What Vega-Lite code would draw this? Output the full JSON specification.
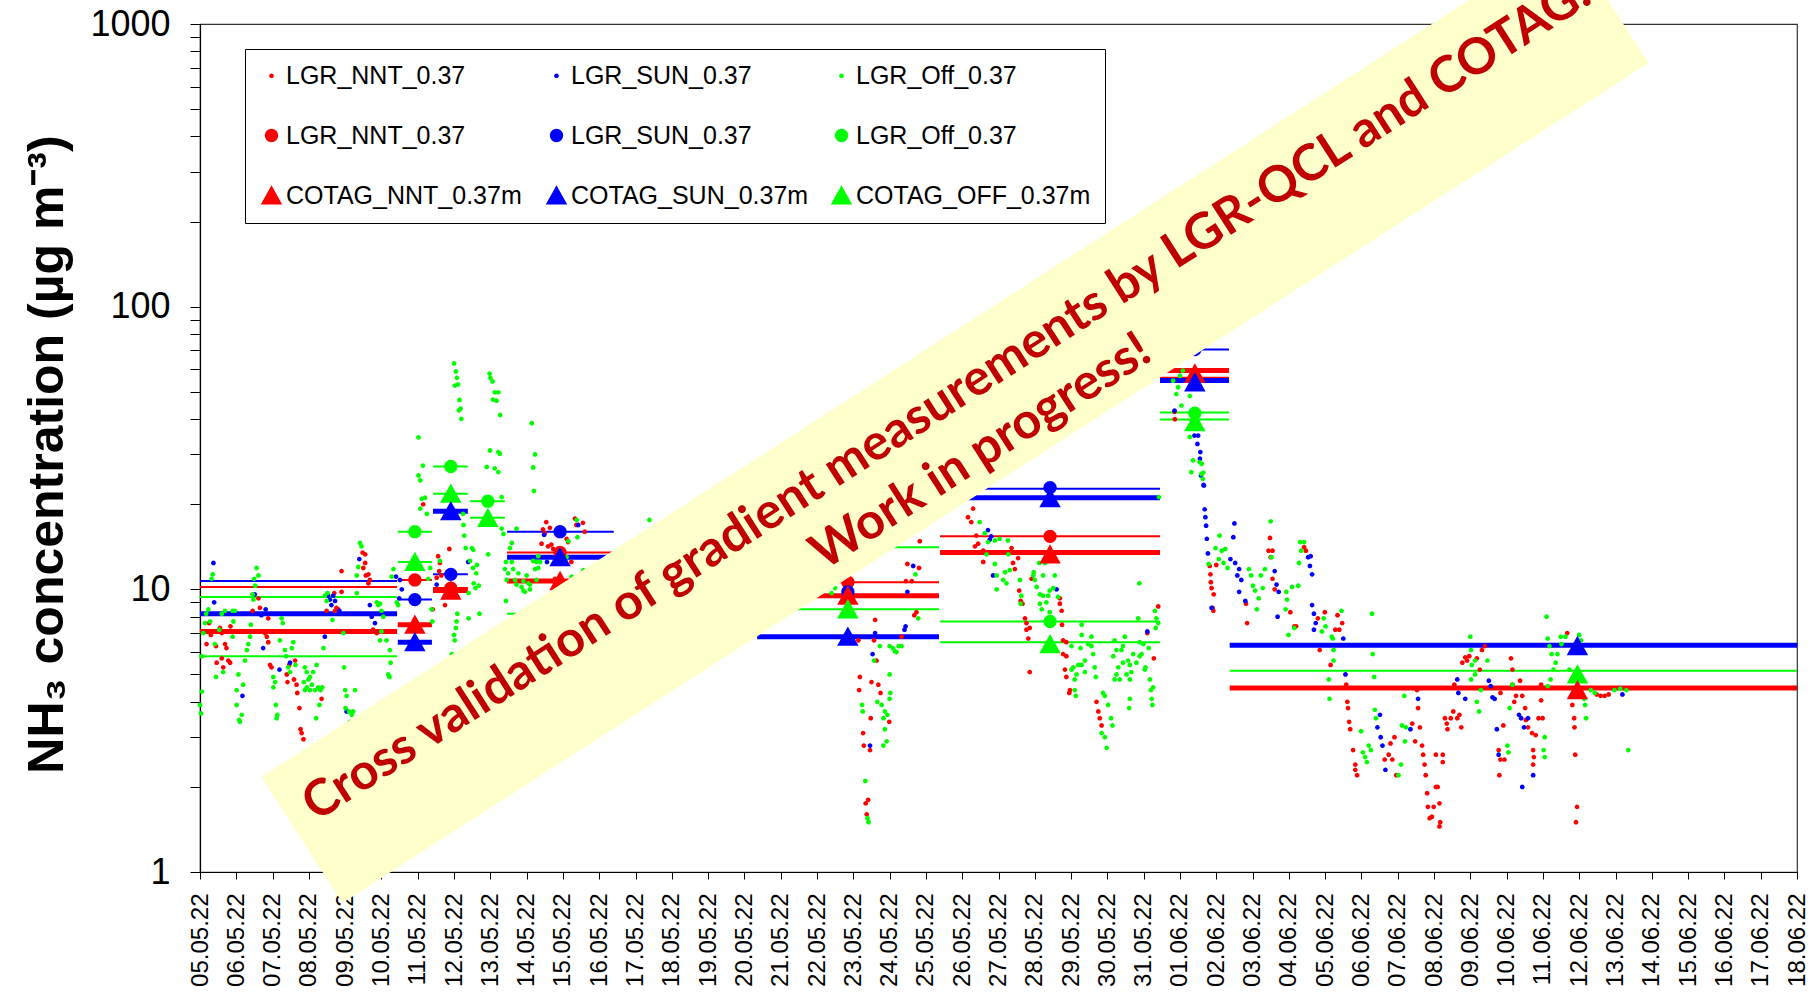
{
"$schema": "https://vega.github.io/schema/vega-lite/v6.json",
"width": 1597, "height": 848,
"autosize": {"type": "none"},
"padding": {"left": 200, "top": 24, "right": 19, "bottom": 120},
"background": "white",
"config": {
  "view": {"stroke": "#333333", "strokeWidth": 1.2},
  "font": "Liberation Sans",
  "axis": {"domainColor": "black", "tickColor": "black", "labelColor": "black", "titleColor": "black", "grid": false, "domainWidth": 1.2, "tickWidth": 1}
},
"datasets": {
"lines": [
{"series":"LGR_SUN_0.37 mean","day":0,"day_end":5.43,"nh3":10.7},
{"series":"LGR_NNT_0.37 mean","day":0,"day_end":5.43,"nh3":10.2},
{"series":"LGR_Off_0.37 mean","day":0,"day_end":5.43,"nh3":9.4},
{"series":"COTAG_SUN_0.37m","day":0,"day_end":5.43,"nh3":8.2},
{"series":"COTAG_NNT_0.37m","day":0,"day_end":5.43,"nh3":7.1},
{"series":"COTAG_OFF_0.37m","day":0,"day_end":5.43,"nh3":5.8},
{"series":"LGR_Off_0.37 mean","day":5.45,"day_end":6.39,"nh3":16.0},
{"series":"COTAG_OFF_0.37m","day":5.45,"day_end":6.39,"nh3":12.5},
{"series":"LGR_NNT_0.37 mean","day":5.45,"day_end":6.39,"nh3":10.8},
{"series":"LGR_SUN_0.37 mean","day":5.45,"day_end":6.39,"nh3":9.2},
{"series":"COTAG_NNT_0.37m","day":5.45,"day_end":6.39,"nh3":7.5},
{"series":"COTAG_SUN_0.37m","day":5.45,"day_end":6.39,"nh3":6.5},
{"series":"LGR_Off_0.37 mean","day":6.42,"day_end":7.38,"nh3":27.2},
{"series":"COTAG_OFF_0.37m","day":6.42,"day_end":7.38,"nh3":21.8},
{"series":"COTAG_SUN_0.37m","day":6.42,"day_end":7.38,"nh3":18.9},
{"series":"LGR_SUN_0.37 mean","day":6.42,"day_end":7.38,"nh3":11.3},
{"series":"LGR_NNT_0.37 mean","day":6.42,"day_end":7.38,"nh3":10.1},
{"series":"COTAG_NNT_0.37m","day":6.42,"day_end":7.38,"nh3":9.9},
{"series":"LGR_Off_0.37 mean","day":7.44,"day_end":8.40,"nh3":20.5},
{"series":"COTAG_OFF_0.37m","day":7.44,"day_end":8.40,"nh3":17.9},
{"series":"LGR_SUN_0.37 mean","day":8.46,"day_end":11.40,"nh3":16.0},
{"series":"LGR_NNT_0.37 mean","day":8.46,"day_end":11.40,"nh3":13.5},
{"series":"COTAG_SUN_0.37m","day":8.46,"day_end":11.40,"nh3":13.0},
{"series":"COTAG_NNT_0.37m","day":8.46,"day_end":11.40,"nh3":10.7},
{"series":"COTAG_OFF_0.37m","day":8.46,"day_end":11.40,"nh3":8.2},
{"series":"LGR_Off_0.37 mean","day":15.35,"day_end":20.36,"nh3":14.1},
{"series":"LGR_NNT_0.37 mean","day":15.35,"day_end":20.36,"nh3":10.6},
{"series":"COTAG_NNT_0.37m","day":15.35,"day_end":20.36,"nh3":9.5},
{"series":"COTAG_OFF_0.37m","day":15.35,"day_end":20.36,"nh3":8.5},
{"series":"COTAG_SUN_0.37m","day":15.35,"day_end":20.36,"nh3":6.8},
{"series":"LGR_SUN_0.37 mean","day":20.39,"day_end":26.45,"nh3":22.7},
{"series":"COTAG_SUN_0.37m","day":20.39,"day_end":26.45,"nh3":21.1},
{"series":"LGR_NNT_0.37 mean","day":20.39,"day_end":26.45,"nh3":15.4},
{"series":"COTAG_NNT_0.37m","day":20.39,"day_end":26.45,"nh3":13.5},
{"series":"LGR_Off_0.37 mean","day":20.39,"day_end":26.45,"nh3":7.7},
{"series":"COTAG_OFF_0.37m","day":20.39,"day_end":26.45,"nh3":6.5},
{"series":"LGR_SUN_0.37 mean","day":26.45,"day_end":28.35,"nh3":70.5},
{"series":"COTAG_NNT_0.37m","day":26.45,"day_end":28.35,"nh3":59.4},
{"series":"LGR_NNT_0.37 mean","day":26.45,"day_end":28.35,"nh3":56},
{"series":"COTAG_SUN_0.37m","day":26.45,"day_end":28.35,"nh3":54.8},
{"series":"LGR_Off_0.37 mean","day":26.45,"day_end":28.35,"nh3":42.2},
{"series":"COTAG_OFF_0.37m","day":26.45,"day_end":28.35,"nh3":39.9},
{"series":"COTAG_SUN_0.37m","day":28.37,"day_end":44,"nh3":6.34},
{"series":"COTAG_OFF_0.37m","day":28.37,"day_end":44,"nh3":5.15},
{"series":"COTAG_NNT_0.37m","day":28.37,"day_end":44,"nh3":4.48}
],
"means": [
{"series":"LGR_Off_0.37 mean","day":5.92,"nh3":16.0},
{"series":"LGR_NNT_0.37 mean","day":5.92,"nh3":10.8},
{"series":"LGR_SUN_0.37 mean","day":5.92,"nh3":9.2},
{"series":"LGR_Off_0.37 mean","day":6.91,"nh3":27.2},
{"series":"LGR_SUN_0.37 mean","day":6.91,"nh3":11.3},
{"series":"LGR_NNT_0.37 mean","day":6.91,"nh3":10.1},
{"series":"LGR_Off_0.37 mean","day":7.93,"nh3":20.5},
{"series":"LGR_SUN_0.37 mean","day":9.92,"nh3":16.0},
{"series":"LGR_NNT_0.37 mean","day":9.92,"nh3":13.5},
{"series":"LGR_Off_0.37 mean","day":17.85,"nh3":14.1},
{"series":"LGR_NNT_0.37 mean","day":17.85,"nh3":10.6},
{"series":"LGR_SUN_0.37 mean","day":17.85,"nh3":9.8},
{"series":"LGR_SUN_0.37 mean","day":23.42,"nh3":22.9},
{"series":"LGR_NNT_0.37 mean","day":23.42,"nh3":15.4},
{"series":"LGR_Off_0.37 mean","day":23.42,"nh3":7.7},
{"series":"LGR_SUN_0.37 mean","day":27.41,"nh3":70.5},
{"series":"LGR_NNT_0.37 mean","day":27.41,"nh3":56},
{"series":"LGR_Off_0.37 mean","day":27.41,"nh3":42.0},
{"series":"COTAG_OFF_0.37m","day":5.92,"nh3":12.5},
{"series":"COTAG_NNT_0.37m","day":5.92,"nh3":7.5},
{"series":"COTAG_SUN_0.37m","day":5.92,"nh3":6.5},
{"series":"COTAG_OFF_0.37m","day":6.91,"nh3":21.8},
{"series":"COTAG_SUN_0.37m","day":6.91,"nh3":18.9},
{"series":"COTAG_NNT_0.37m","day":6.91,"nh3":9.9},
{"series":"COTAG_OFF_0.37m","day":7.93,"nh3":17.9},
{"series":"COTAG_SUN_0.37m","day":9.92,"nh3":13.0},
{"series":"COTAG_NNT_0.37m","day":9.92,"nh3":10.7},
{"series":"COTAG_OFF_0.37m","day":9.92,"nh3":8.2},
{"series":"COTAG_NNT_0.37m","day":17.85,"nh3":9.5},
{"series":"COTAG_OFF_0.37m","day":17.85,"nh3":8.5},
{"series":"COTAG_SUN_0.37m","day":17.85,"nh3":6.8},
{"series":"COTAG_SUN_0.37m","day":23.42,"nh3":21.0},
{"series":"COTAG_NNT_0.37m","day":23.42,"nh3":13.3},
{"series":"COTAG_OFF_0.37m","day":23.42,"nh3":6.4},
{"series":"COTAG_NNT_0.37m","day":27.41,"nh3":58},
{"series":"COTAG_SUN_0.37m","day":27.41,"nh3":54},
{"series":"COTAG_OFF_0.37m","day":27.41,"nh3":39},
{"series":"COTAG_SUN_0.37m","day":37.95,"nh3":6.3},
{"series":"COTAG_OFF_0.37m","day":37.95,"nh3":5.0},
{"series":"COTAG_NNT_0.37m","day":37.95,"nh3":4.4}
],
"dots": [
{"series":"LGR_NNT_0.37 dots","day":0.18,"nh3":6.4},{"series":"LGR_NNT_0.37 dots","day":0.25,"nh3":7.6},{"series":"LGR_NNT_0.37 dots","day":0.3,"nh3":6.9},{"series":"LGR_NNT_0.37 dots","day":0.44,"nh3":6.3},{"series":"LGR_NNT_0.37 dots","day":0.46,"nh3":7.1},{"series":"LGR_NNT_0.37 dots","day":0.46,"nh3":5.5},{"series":"LGR_NNT_0.37 dots","day":0.55,"nh3":7.3},{"series":"LGR_NNT_0.37 dots","day":0.6,"nh3":7.0},{"series":"LGR_NNT_0.37 dots","day":0.6,"nh3":5.7},{"series":"LGR_NNT_0.37 dots","day":0.64,"nh3":5.3},{"series":"LGR_NNT_0.37 dots","day":0.69,"nh3":6.4},{"series":"LGR_NNT_0.37 dots","day":0.73,"nh3":6.2},{"series":"LGR_NNT_0.37 dots","day":0.78,"nh3":5.6},{"series":"LGR_NNT_0.37 dots","day":0.83,"nh3":5.5},{"series":"LGR_NNT_0.37 dots","day":0.73,"nh3":7.1},{"series":"LGR_NNT_0.37 dots","day":0.84,"nh3":7.4},
{"series":"LGR_NNT_0.37 dots","day":1.45,"nh3":8.4},{"series":"LGR_NNT_0.37 dots","day":1.61,"nh3":9.3},{"series":"LGR_NNT_0.37 dots","day":1.65,"nh3":8.6},{"series":"LGR_NNT_0.37 dots","day":1.79,"nh3":7.0},{"series":"LGR_NNT_0.37 dots","day":1.84,"nh3":6.8},{"series":"LGR_NNT_0.37 dots","day":1.88,"nh3":6.5},{"series":"LGR_NNT_0.37 dots","day":1.88,"nh3":7.9},{"series":"LGR_NNT_0.37 dots","day":1.93,"nh3":5.4},{"series":"LGR_NNT_0.37 dots","day":1.97,"nh3":5.3},
{"series":"LGR_NNT_0.37 dots","day":2.39,"nh3":5.0},{"series":"LGR_NNT_0.37 dots","day":2.41,"nh3":4.7},{"series":"LGR_NNT_0.37 dots","day":2.46,"nh3":5.4},{"series":"LGR_NNT_0.37 dots","day":2.62,"nh3":5.6},{"series":"LGR_NNT_0.37 dots","day":2.59,"nh3":4.8},{"series":"LGR_NNT_0.37 dots","day":2.66,"nh3":4.6},{"series":"LGR_NNT_0.37 dots","day":2.68,"nh3":4.3},{"series":"LGR_NNT_0.37 dots","day":2.74,"nh3":3.8},{"series":"LGR_NNT_0.37 dots","day":2.77,"nh3":3.2},{"series":"LGR_NNT_0.37 dots","day":2.8,"nh3":3.1},{"series":"LGR_NNT_0.37 dots","day":2.85,"nh3":2.95},
{"series":"LGR_NNT_0.37 dots","day":3.35,"nh3":4.1},{"series":"LGR_NNT_0.37 dots","day":3.49,"nh3":8.4},{"series":"LGR_NNT_0.37 dots","day":3.7,"nh3":9.7},{"series":"LGR_NNT_0.37 dots","day":3.72,"nh3":8.4},{"series":"LGR_NNT_0.37 dots","day":3.76,"nh3":8.6},{"series":"LGR_NNT_0.37 dots","day":3.81,"nh3":8.5},{"series":"LGR_NNT_0.37 dots","day":3.9,"nh3":9.8},{"series":"LGR_NNT_0.37 dots","day":3.9,"nh3":11.6},
{"series":"LGR_NNT_0.37 dots","day":4.48,"nh3":13.5},{"series":"LGR_NNT_0.37 dots","day":4.55,"nh3":13.3},{"series":"LGR_NNT_0.37 dots","day":4.55,"nh3":12.4},{"series":"LGR_NNT_0.37 dots","day":4.5,"nh3":11.9},{"series":"LGR_NNT_0.37 dots","day":4.57,"nh3":11.2},{"series":"LGR_NNT_0.37 dots","day":4.64,"nh3":11.3},{"series":"LGR_NNT_0.37 dots","day":4.64,"nh3":10.5},{"series":"LGR_NNT_0.37 dots","day":4.68,"nh3":10.8},{"series":"LGR_NNT_0.37 dots","day":4.77,"nh3":7.2},{"series":"LGR_NNT_0.37 dots","day":4.87,"nh3":7.0},
{"series":"LGR_NNT_0.37 dots","day":6.15,"nh3":20.0},{"series":"LGR_NNT_0.37 dots","day":6.41,"nh3":8.5},{"series":"LGR_NNT_0.37 dots","day":6.52,"nh3":11.0},{"series":"LGR_NNT_0.37 dots","day":6.56,"nh3":13.1},{"series":"LGR_NNT_0.37 dots","day":6.59,"nh3":11.6},{"series":"LGR_NNT_0.37 dots","day":6.61,"nh3":12.4},{"series":"LGR_NNT_0.37 dots","day":6.65,"nh3":11.2},{"series":"LGR_NNT_0.37 dots","day":6.75,"nh3":8.8},{"series":"LGR_NNT_0.37 dots","day":6.87,"nh3":13.9},
{"series":"LGR_NNT_0.37 dots","day":9.41,"nh3":14.5},{"series":"LGR_NNT_0.37 dots","day":9.45,"nh3":16.3},{"series":"LGR_NNT_0.37 dots","day":9.5,"nh3":15.8},{"series":"LGR_NNT_0.37 dots","day":9.54,"nh3":17.3},{"series":"LGR_NNT_0.37 dots","day":9.59,"nh3":14.2},{"series":"LGR_NNT_0.37 dots","day":9.64,"nh3":16.5},{"series":"LGR_NNT_0.37 dots","day":9.68,"nh3":14.4},{"series":"LGR_NNT_0.37 dots","day":9.73,"nh3":13.9},{"series":"LGR_NNT_0.37 dots","day":9.78,"nh3":10.9},{"series":"LGR_NNT_0.37 dots","day":9.82,"nh3":10.6},{"series":"LGR_NNT_0.37 dots","day":9.91,"nh3":10.3},{"series":"LGR_NNT_0.37 dots","day":10.1,"nh3":15.1},{"series":"LGR_NNT_0.37 dots","day":10.14,"nh3":14.7},{"series":"LGR_NNT_0.37 dots","day":10.23,"nh3":12.5},{"series":"LGR_NNT_0.37 dots","day":10.33,"nh3":17.8},{"series":"LGR_NNT_0.37 dots","day":10.37,"nh3":16.9},{"series":"LGR_NNT_0.37 dots","day":10.55,"nh3":17.2},{"series":"LGR_NNT_0.37 dots","day":10.6,"nh3":16.0},
{"series":"LGR_NNT_0.37 dots","day":18.14,"nh3":6.6},{"series":"LGR_NNT_0.37 dots","day":18.16,"nh3":4.4},{"series":"LGR_NNT_0.37 dots","day":18.18,"nh3":4.9},{"series":"LGR_NNT_0.37 dots","day":18.27,"nh3":3.1},{"series":"LGR_NNT_0.37 dots","day":18.29,"nh3":2.8},{"series":"LGR_NNT_0.37 dots","day":18.34,"nh3":1.75},{"series":"LGR_NNT_0.37 dots","day":18.37,"nh3":1.6},{"series":"LGR_NNT_0.37 dots","day":18.41,"nh3":1.8},{"series":"LGR_NNT_0.37 dots","day":18.46,"nh3":2.7},{"series":"LGR_NNT_0.37 dots","day":18.48,"nh3":3.5},{"series":"LGR_NNT_0.37 dots","day":18.5,"nh3":4.7},{"series":"LGR_NNT_0.37 dots","day":18.57,"nh3":6.6},{"series":"LGR_NNT_0.37 dots","day":18.6,"nh3":7.8},{"series":"LGR_NNT_0.37 dots","day":18.64,"nh3":5.6},{"series":"LGR_NNT_0.37 dots","day":18.69,"nh3":4.6},{"series":"LGR_NNT_0.37 dots","day":18.75,"nh3":4.3},{"series":"LGR_NNT_0.37 dots","day":18.99,"nh3":3.4},{"series":"LGR_NNT_0.37 dots","day":19.33,"nh3":6.8},{"series":"LGR_NNT_0.37 dots","day":19.45,"nh3":10.7},{"series":"LGR_NNT_0.37 dots","day":19.49,"nh3":12.3},{"series":"LGR_NNT_0.37 dots","day":19.61,"nh3":10.7},{"series":"LGR_NNT_0.37 dots","day":19.68,"nh3":8.1},{"series":"LGR_NNT_0.37 dots","day":19.74,"nh3":8.3},{"series":"LGR_NNT_0.37 dots","day":19.81,"nh3":11.9},{"series":"LGR_NNT_0.37 dots","day":19.83,"nh3":14.8},
{"series":"LGR_NNT_0.37 dots","day":21.16,"nh3":18.0},{"series":"LGR_NNT_0.37 dots","day":21.25,"nh3":17.3},{"series":"LGR_NNT_0.37 dots","day":21.3,"nh3":19.3},{"series":"LGR_NNT_0.37 dots","day":21.35,"nh3":14.2},{"series":"LGR_NNT_0.37 dots","day":21.39,"nh3":15.5},{"series":"LGR_NNT_0.37 dots","day":21.44,"nh3":14.5},{"series":"LGR_NNT_0.37 dots","day":21.58,"nh3":13.7},{"series":"LGR_NNT_0.37 dots","day":21.58,"nh3":12.5},{"series":"LGR_NNT_0.37 dots","day":22.36,"nh3":14.0},{"series":"LGR_NNT_0.37 dots","day":22.4,"nh3":12.4},{"series":"LGR_NNT_0.37 dots","day":22.45,"nh3":11.8},{"series":"LGR_NNT_0.37 dots","day":22.54,"nh3":12.9},{"series":"LGR_NNT_0.37 dots","day":22.57,"nh3":9.9},{"series":"LGR_NNT_0.37 dots","day":22.61,"nh3":9.1},{"series":"LGR_NNT_0.37 dots","day":22.66,"nh3":8.9},{"series":"LGR_NNT_0.37 dots","day":22.73,"nh3":7.9},{"series":"LGR_NNT_0.37 dots","day":22.77,"nh3":7.6},{"series":"LGR_NNT_0.37 dots","day":22.77,"nh3":7.2},{"series":"LGR_NNT_0.37 dots","day":22.82,"nh3":6.7},{"series":"LGR_NNT_0.37 dots","day":22.86,"nh3":7.3},{"series":"LGR_NNT_0.37 dots","day":22.86,"nh3":5.1},{"series":"LGR_NNT_0.37 dots","day":22.91,"nh3":10.9},{"series":"LGR_NNT_0.37 dots","day":23.69,"nh3":9.3},{"series":"LGR_NNT_0.37 dots","day":23.69,"nh3":8.9},{"series":"LGR_NNT_0.37 dots","day":23.74,"nh3":8.4},{"series":"LGR_NNT_0.37 dots","day":23.75,"nh3":7.5},{"series":"LGR_NNT_0.37 dots","day":23.78,"nh3":6.6},{"series":"LGR_NNT_0.37 dots","day":23.78,"nh3":5.9},{"series":"LGR_NNT_0.37 dots","day":23.83,"nh3":5.2},{"series":"LGR_NNT_0.37 dots","day":23.87,"nh3":6.5},{"series":"LGR_NNT_0.37 dots","day":23.87,"nh3":5.8},{"series":"LGR_NNT_0.37 dots","day":23.87,"nh3":4.9},{"series":"LGR_NNT_0.37 dots","day":23.95,"nh3":4.3},{"series":"LGR_NNT_0.37 dots","day":23.97,"nh3":4.4},{"series":"LGR_NNT_0.37 dots","day":24.7,"nh3":4.0},{"series":"LGR_NNT_0.37 dots","day":24.75,"nh3":3.7},{"series":"LGR_NNT_0.37 dots","day":24.79,"nh3":3.5},{"series":"LGR_NNT_0.37 dots","day":24.84,"nh3":3.3},{"series":"LGR_NNT_0.37 dots","day":26.1,"nh3":7.0},{"series":"LGR_NNT_0.37 dots","day":26.28,"nh3":5.7},{"series":"LGR_NNT_0.37 dots","day":26.4,"nh3":8.7},{"series":"LGR_NNT_0.37 dots","day":26.85,"nh3":42.5},{"series":"LGR_NNT_0.37 dots","day":26.86,"nh3":40.0},
{"series":"LGR_NNT_0.37 dots","day":27.82,"nh3":12.1},{"series":"LGR_NNT_0.37 dots","day":27.84,"nh3":11.3},{"series":"LGR_NNT_0.37 dots","day":27.85,"nh3":10.6},{"series":"LGR_NNT_0.37 dots","day":27.87,"nh3":10.1},{"series":"LGR_NNT_0.37 dots","day":27.93,"nh3":9.6},{"series":"LGR_NNT_0.37 dots","day":27.9,"nh3":8.6},{"series":"LGR_NNT_0.37 dots","day":27.92,"nh3":8.4},{"series":"LGR_NNT_0.37 dots","day":28.0,"nh3":12.2},{"series":"LGR_NNT_0.37 dots","day":28.82,"nh3":8.9},{"series":"LGR_NNT_0.37 dots","day":28.85,"nh3":7.6},{"series":"LGR_NNT_0.37 dots","day":29.44,"nh3":13.7},{"series":"LGR_NNT_0.37 dots","day":29.48,"nh3":15.2},{"series":"LGR_NNT_0.37 dots","day":29.5,"nh3":13.0},{"series":"LGR_NNT_0.37 dots","day":29.55,"nh3":13.7},{"series":"LGR_NNT_0.37 dots","day":29.55,"nh3":10.9},{"series":"LGR_NNT_0.37 dots","day":29.61,"nh3":10.0},{"series":"LGR_NNT_0.37 dots","day":30.04,"nh3":8.3},{"series":"LGR_NNT_0.37 dots","day":30.15,"nh3":7.4},{"series":"LGR_NNT_0.37 dots","day":30.2,"nh3":7.4},{"series":"LGR_NNT_0.37 dots","day":30.42,"nh3":14.1},{"series":"LGR_NNT_0.37 dots","day":30.47,"nh3":13.7},{"series":"LGR_NNT_0.37 dots","day":30.8,"nh3":7.9},{"series":"LGR_NNT_0.37 dots","day":30.85,"nh3":6.1},{"series":"LGR_NNT_0.37 dots","day":30.99,"nh3":8.3},{"series":"LGR_NNT_0.37 dots","day":31.15,"nh3":5.4},{"series":"LGR_NNT_0.37 dots","day":31.28,"nh3":7.2},{"series":"LGR_NNT_0.37 dots","day":31.34,"nh3":8.1},{"series":"LGR_NNT_0.37 dots","day":31.39,"nh3":7.2},{"series":"LGR_NNT_0.37 dots","day":31.47,"nh3":7.6},{"series":"LGR_NNT_0.37 dots","day":31.58,"nh3":4.6},{"series":"LGR_NNT_0.37 dots","day":31.61,"nh3":4.0},{"series":"LGR_NNT_0.37 dots","day":31.63,"nh3":3.8},{"series":"LGR_NNT_0.37 dots","day":31.66,"nh3":3.4},{"series":"LGR_NNT_0.37 dots","day":31.69,"nh3":3.2},{"series":"LGR_NNT_0.37 dots","day":31.77,"nh3":2.7},{"series":"LGR_NNT_0.37 dots","day":31.83,"nh3":2.3},{"series":"LGR_NNT_0.37 dots","day":31.83,"nh3":2.4},{"series":"LGR_NNT_0.37 dots","day":31.88,"nh3":2.2},
{"series":"LGR_NNT_0.37 dots","day":32.64,"nh3":2.5},{"series":"LGR_NNT_0.37 dots","day":32.75,"nh3":2.6},{"series":"LGR_NNT_0.37 dots","day":32.8,"nh3":2.85},{"series":"LGR_NNT_0.37 dots","day":32.85,"nh3":2.5},{"series":"LGR_NNT_0.37 dots","day":32.91,"nh3":3.0},{"series":"LGR_NNT_0.37 dots","day":32.96,"nh3":2.2},{"series":"LGR_NNT_0.37 dots","day":33.4,"nh3":3.35},{"series":"LGR_NNT_0.37 dots","day":33.48,"nh3":2.9},{"series":"LGR_NNT_0.37 dots","day":33.53,"nh3":4.4},{"series":"LGR_NNT_0.37 dots","day":33.56,"nh3":3.8},{"series":"LGR_NNT_0.37 dots","day":33.61,"nh3":3.25},{"series":"LGR_NNT_0.37 dots","day":33.67,"nh3":2.8},{"series":"LGR_NNT_0.37 dots","day":33.7,"nh3":2.6},{"series":"LGR_NNT_0.37 dots","day":33.74,"nh3":2.4},{"series":"LGR_NNT_0.37 dots","day":33.77,"nh3":2.2},{"series":"LGR_NNT_0.37 dots","day":33.81,"nh3":1.9},{"series":"LGR_NNT_0.37 dots","day":33.83,"nh3":1.7},{"series":"LGR_NNT_0.37 dots","day":33.88,"nh3":1.55},{"series":"LGR_NNT_0.37 dots","day":33.94,"nh3":1.57},{"series":"LGR_NNT_0.37 dots","day":33.99,"nh3":1.7},{"series":"LGR_NNT_0.37 dots","day":34.05,"nh3":2.0},{"series":"LGR_NNT_0.37 dots","day":34.05,"nh3":2.6},{"series":"LGR_NNT_0.37 dots","day":34.1,"nh3":2.0},{"series":"LGR_NNT_0.37 dots","day":34.15,"nh3":1.75},{"series":"LGR_NNT_0.37 dots","day":34.15,"nh3":1.45},{"series":"LGR_NNT_0.37 dots","day":34.17,"nh3":1.5},{"series":"LGR_NNT_0.37 dots","day":34.24,"nh3":2.6},{"series":"LGR_NNT_0.37 dots","day":34.24,"nh3":2.45},{"series":"LGR_NNT_0.37 dots","day":34.3,"nh3":3.5},{"series":"LGR_NNT_0.37 dots","day":34.35,"nh3":3.35},{"series":"LGR_NNT_0.37 dots","day":34.37,"nh3":3.2},{"series":"LGR_NNT_0.37 dots","day":34.46,"nh3":3.5},{"series":"LGR_NNT_0.37 dots","day":34.53,"nh3":3.7},{"series":"LGR_NNT_0.37 dots","day":34.56,"nh3":4.6},{"series":"LGR_NNT_0.37 dots","day":34.64,"nh3":3.5},{"series":"LGR_NNT_0.37 dots","day":34.7,"nh3":3.6},{"series":"LGR_NNT_0.37 dots","day":34.75,"nh3":3.25},{"series":"LGR_NNT_0.37 dots","day":34.78,"nh3":5.5},{"series":"LGR_NNT_0.37 dots","day":34.86,"nh3":5.75},{"series":"LGR_NNT_0.37 dots","day":34.91,"nh3":5.6},{"series":"LGR_NNT_0.37 dots","day":34.97,"nh3":5.8},{"series":"LGR_NNT_0.37 dots","day":35.18,"nh3":5.7},{"series":"LGR_NNT_0.37 dots","day":35.26,"nh3":5.2},{"series":"LGR_NNT_0.37 dots","day":35.32,"nh3":6.1},{"series":"LGR_NNT_0.37 dots","day":35.4,"nh3":6.3},{"series":"LGR_NNT_0.37 dots","day":35.78,"nh3":2.7},{"series":"LGR_NNT_0.37 dots","day":35.8,"nh3":2.2},{"series":"LGR_NNT_0.37 dots","day":35.83,"nh3":4.3},{"series":"LGR_NNT_0.37 dots","day":35.83,"nh3":2.5},{"series":"LGR_NNT_0.37 dots","day":35.91,"nh3":3.3},{"series":"LGR_NNT_0.37 dots","day":35.94,"nh3":2.5},{"series":"LGR_NNT_0.37 dots","day":36.12,"nh3":5.7},{"series":"LGR_NNT_0.37 dots","day":36.16,"nh3":5.2},{"series":"LGR_NNT_0.37 dots","day":36.16,"nh3":4.6},{"series":"LGR_NNT_0.37 dots","day":36.21,"nh3":4.0},{"series":"LGR_NNT_0.37 dots","day":36.26,"nh3":4.2},{"series":"LGR_NNT_0.37 dots","day":36.37,"nh3":4.75},{"series":"LGR_NNT_0.37 dots","day":36.43,"nh3":4.2},{"series":"LGR_NNT_0.37 dots","day":36.51,"nh3":3.8},{"series":"LGR_NNT_0.37 dots","day":36.53,"nh3":3.45},{"series":"LGR_NNT_0.37 dots","day":36.59,"nh3":3.25},{"series":"LGR_NNT_0.37 dots","day":36.7,"nh3":3.1},{"series":"LGR_NNT_0.37 dots","day":36.73,"nh3":2.7},{"series":"LGR_NNT_0.37 dots","day":36.73,"nh3":2.4},{"series":"LGR_NNT_0.37 dots","day":36.75,"nh3":2.55},{"series":"LGR_NNT_0.37 dots","day":36.8,"nh3":3.05},{"series":"LGR_NNT_0.37 dots","day":36.88,"nh3":3.5},{"series":"LGR_NNT_0.37 dots","day":36.95,"nh3":4.05},{"series":"LGR_NNT_0.37 dots","day":36.95,"nh3":4.6},{"series":"LGR_NNT_0.37 dots","day":36.99,"nh3":3.5},{"series":"LGR_NNT_0.37 dots","day":37.67,"nh3":7.0},{"series":"LGR_NNT_0.37 dots","day":37.81,"nh3":3.9},{"series":"LGR_NNT_0.37 dots","day":37.86,"nh3":3.5},{"series":"LGR_NNT_0.37 dots","day":37.87,"nh3":3.25},{"series":"LGR_NNT_0.37 dots","day":37.89,"nh3":2.6},{"series":"LGR_NNT_0.37 dots","day":37.91,"nh3":1.5},{"series":"LGR_NNT_0.37 dots","day":37.94,"nh3":1.7},{"series":"LGR_NNT_0.37 dots","day":38.48,"nh3":4.25},{"series":"LGR_NNT_0.37 dots","day":38.59,"nh3":4.2},{"series":"LGR_NNT_0.37 dots","day":38.7,"nh3":4.2},{"series":"LGR_NNT_0.37 dots","day":38.81,"nh3":4.25},
{"series":"LGR_SUN_0.37 dots","day":0.37,"nh3":12.4},{"series":"LGR_SUN_0.37 dots","day":0.39,"nh3":9.0},{"series":"LGR_SUN_0.37 dots","day":1.17,"nh3":4.2},{"series":"LGR_SUN_0.37 dots","day":1.51,"nh3":9.6},{"series":"LGR_SUN_0.37 dots","day":1.69,"nh3":8.1},{"series":"LGR_SUN_0.37 dots","day":1.74,"nh3":6.2},{"series":"LGR_SUN_0.37 dots","day":1.81,"nh3":8.5},{"series":"LGR_SUN_0.37 dots","day":2.19,"nh3":5.2},{"series":"LGR_SUN_0.37 dots","day":2.48,"nh3":5.5},{"series":"LGR_SUN_0.37 dots","day":3.44,"nh3":6.8},{"series":"LGR_SUN_0.37 dots","day":3.53,"nh3":9.5},{"series":"LGR_SUN_0.37 dots","day":3.58,"nh3":9.2},{"series":"LGR_SUN_0.37 dots","day":3.62,"nh3":8.8},{"series":"LGR_SUN_0.37 dots","day":3.67,"nh3":9.5},{"series":"LGR_SUN_0.37 dots","day":3.72,"nh3":9.1},{"series":"LGR_SUN_0.37 dots","day":3.84,"nh3":8.4},{"series":"LGR_SUN_0.37 dots","day":4.04,"nh3":3.7},{"series":"LGR_SUN_0.37 dots","day":4.39,"nh3":12.8},{"series":"LGR_SUN_0.37 dots","day":4.68,"nh3":8.8},{"series":"LGR_SUN_0.37 dots","day":4.73,"nh3":8.0},{"series":"LGR_SUN_0.37 dots","day":4.82,"nh3":7.6},{"series":"LGR_SUN_0.37 dots","day":5.4,"nh3":11.1},{"series":"LGR_SUN_0.37 dots","day":5.49,"nh3":9.3},{"series":"LGR_SUN_0.37 dots","day":5.51,"nh3":10.8},{"series":"LGR_SUN_0.37 dots","day":5.56,"nh3":10.0},{"series":"LGR_SUN_0.37 dots","day":6.52,"nh3":10.4},{"series":"LGR_SUN_0.37 dots","day":7.39,"nh3":12.5},{"series":"LGR_SUN_0.37 dots","day":9.48,"nh3":15.6},{"series":"LGR_SUN_0.37 dots","day":9.56,"nh3":12.5},{"series":"LGR_SUN_0.37 dots","day":10.42,"nh3":16.9},
{"series":"LGR_SUN_0.37 dots","day":18.46,"nh3":2.8},{"series":"LGR_SUN_0.37 dots","day":18.53,"nh3":5.9},{"series":"LGR_SUN_0.37 dots","day":18.6,"nh3":7.0},{"series":"LGR_SUN_0.37 dots","day":19.41,"nh3":7.2},{"series":"LGR_SUN_0.37 dots","day":19.44,"nh3":7.4},{"series":"LGR_SUN_0.37 dots","day":19.49,"nh3":9.8},{"series":"LGR_SUN_0.37 dots","day":19.65,"nh3":12.1},{"series":"LGR_SUN_0.37 dots","day":21.71,"nh3":16.2},{"series":"LGR_SUN_0.37 dots","day":21.76,"nh3":15.0},{"series":"LGR_SUN_0.37 dots","day":21.8,"nh3":15.4},{"series":"LGR_SUN_0.37 dots","day":21.85,"nh3":11.2},{"series":"LGR_SUN_0.37 dots","day":23.6,"nh3":10.0},{"series":"LGR_SUN_0.37 dots","day":26.1,"nh3":7.1},{"series":"LGR_SUN_0.37 dots","day":26.49,"nh3":234},{"series":"LGR_SUN_0.37 dots","day":26.85,"nh3":42.9},{"series":"LGR_SUN_0.37 dots","day":27.4,"nh3":35.0},{"series":"LGR_SUN_0.37 dots","day":27.48,"nh3":32.7},{"series":"LGR_SUN_0.37 dots","day":27.5,"nh3":35.0},{"series":"LGR_SUN_0.37 dots","day":27.55,"nh3":29.0},{"series":"LGR_SUN_0.37 dots","day":27.56,"nh3":30.6},{"series":"LGR_SUN_0.37 dots","day":27.58,"nh3":25.3},{"series":"LGR_SUN_0.37 dots","day":27.65,"nh3":23.4},{"series":"LGR_SUN_0.37 dots","day":27.66,"nh3":23.3},{"series":"LGR_SUN_0.37 dots","day":27.68,"nh3":19.2},{"series":"LGR_SUN_0.37 dots","day":27.7,"nh3":18.0},{"series":"LGR_SUN_0.37 dots","day":27.72,"nh3":16.8},{"series":"LGR_SUN_0.37 dots","day":27.74,"nh3":15.1},{"series":"LGR_SUN_0.37 dots","day":27.77,"nh3":13.4},{"series":"LGR_SUN_0.37 dots","day":27.87,"nh3":8.6},{"series":"LGR_SUN_0.37 dots","day":28.39,"nh3":12.8},{"series":"LGR_SUN_0.37 dots","day":28.47,"nh3":15.3},{"series":"LGR_SUN_0.37 dots","day":28.5,"nh3":17.1},{"series":"LGR_SUN_0.37 dots","day":28.52,"nh3":12.4},{"series":"LGR_SUN_0.37 dots","day":28.58,"nh3":11.2},{"series":"LGR_SUN_0.37 dots","day":28.63,"nh3":11.8},{"series":"LGR_SUN_0.37 dots","day":28.63,"nh3":9.8},{"series":"LGR_SUN_0.37 dots","day":28.69,"nh3":10.8},{"series":"LGR_SUN_0.37 dots","day":28.8,"nh3":9.1},{"series":"LGR_SUN_0.37 dots","day":29.61,"nh3":11.6},{"series":"LGR_SUN_0.37 dots","day":29.66,"nh3":10.4},{"series":"LGR_SUN_0.37 dots","day":29.69,"nh3":8.0},{"series":"LGR_SUN_0.37 dots","day":29.72,"nh3":9.8},{"series":"LGR_SUN_0.37 dots","day":30.53,"nh3":13.0},{"series":"LGR_SUN_0.37 dots","day":30.58,"nh3":12.1},{"series":"LGR_SUN_0.37 dots","day":30.6,"nh3":13.1},{"series":"LGR_SUN_0.37 dots","day":30.64,"nh3":11.3},{"series":"LGR_SUN_0.37 dots","day":30.64,"nh3":8.8},{"series":"LGR_SUN_0.37 dots","day":30.69,"nh3":8.2},{"series":"LGR_SUN_0.37 dots","day":30.69,"nh3":7.2},{"series":"LGR_SUN_0.37 dots","day":30.74,"nh3":7.6},{"series":"LGR_SUN_0.37 dots","day":31.5,"nh3":6.7},{"series":"LGR_SUN_0.37 dots","day":31.56,"nh3":5.0},{"series":"LGR_SUN_0.37 dots","day":32.44,"nh3":3.25},{"series":"LGR_SUN_0.37 dots","day":32.51,"nh3":3.6},{"series":"LGR_SUN_0.37 dots","day":32.53,"nh3":3.0},{"series":"LGR_SUN_0.37 dots","day":32.58,"nh3":2.8},{"series":"LGR_SUN_0.37 dots","day":32.66,"nh3":2.3},{"series":"LGR_SUN_0.37 dots","day":33.35,"nh3":3.2},{"series":"LGR_SUN_0.37 dots","day":33.56,"nh3":4.1},{"series":"LGR_SUN_0.37 dots","day":34.64,"nh3":4.8},{"series":"LGR_SUN_0.37 dots","day":34.67,"nh3":4.3},{"series":"LGR_SUN_0.37 dots","day":34.86,"nh3":4.1},{"series":"LGR_SUN_0.37 dots","day":35.51,"nh3":4.75},{"series":"LGR_SUN_0.37 dots","day":35.56,"nh3":4.55},{"series":"LGR_SUN_0.37 dots","day":35.61,"nh3":4.15},{"series":"LGR_SUN_0.37 dots","day":35.67,"nh3":4.1},{"series":"LGR_SUN_0.37 dots","day":35.73,"nh3":3.2},{"series":"LGR_SUN_0.37 dots","day":35.78,"nh3":2.6},{"series":"LGR_SUN_0.37 dots","day":36.34,"nh3":3.6},{"series":"LGR_SUN_0.37 dots","day":36.4,"nh3":3.5},{"series":"LGR_SUN_0.37 dots","day":36.43,"nh3":2.0},{"series":"LGR_SUN_0.37 dots","day":36.48,"nh3":3.25},{"series":"LGR_SUN_0.37 dots","day":36.59,"nh3":3.5},{"series":"LGR_SUN_0.37 dots","day":36.73,"nh3":2.2},{"series":"LGR_SUN_0.37 dots","day":39.19,"nh3":4.25},
{"series":"LGR_Off_0.37 dots","day":0.0,"nh3":3.9},{"series":"LGR_Off_0.37 dots","day":0.03,"nh3":3.64},{"series":"LGR_Off_0.37 dots","day":0.05,"nh3":4.35},{"series":"LGR_Off_0.37 dots","day":0.05,"nh3":5.8},{"series":"LGR_Off_0.37 dots","day":0.09,"nh3":7.0},{"series":"LGR_Off_0.37 dots","day":0.14,"nh3":7.6},{"series":"LGR_Off_0.37 dots","day":0.17,"nh3":8.2},{"series":"LGR_Off_0.37 dots","day":0.23,"nh3":8.5},{"series":"LGR_Off_0.37 dots","day":0.28,"nh3":7.7},{"series":"LGR_Off_0.37 dots","day":0.32,"nh3":10.9},{"series":"LGR_Off_0.37 dots","day":0.35,"nh3":11.3},{"series":"LGR_Off_0.37 dots","day":0.41,"nh3":6.4},{"series":"LGR_Off_0.37 dots","day":0.44,"nh3":4.9},{"series":"LGR_Off_0.37 dots","day":0.53,"nh3":7.2},{"series":"LGR_Off_0.37 dots","day":0.6,"nh3":8.2},{"series":"LGR_Off_0.37 dots","day":0.64,"nh3":5.1},{"series":"LGR_Off_0.37 dots","day":0.69,"nh3":8.4},{"series":"LGR_Off_0.37 dots","day":0.9,"nh3":8.4},{"series":"LGR_Off_0.37 dots","day":0.9,"nh3":6.8},{"series":"LGR_Off_0.37 dots","day":0.92,"nh3":7.7},{"series":"LGR_Off_0.37 dots","day":0.96,"nh3":8.4},{"series":"LGR_Off_0.37 dots","day":1.01,"nh3":4.4},{"series":"LGR_Off_0.37 dots","day":1.01,"nh3":3.9},{"series":"LGR_Off_0.37 dots","day":1.06,"nh3":5.0},{"series":"LGR_Off_0.37 dots","day":1.08,"nh3":3.45},{"series":"LGR_Off_0.37 dots","day":1.1,"nh3":3.4},{"series":"LGR_Off_0.37 dots","day":1.15,"nh3":3.6},{"series":"LGR_Off_0.37 dots","day":1.19,"nh3":4.6},{"series":"LGR_Off_0.37 dots","day":1.24,"nh3":5.6},{"series":"LGR_Off_0.37 dots","day":1.29,"nh3":6.1},{"series":"LGR_Off_0.37 dots","day":1.33,"nh3":6.4},{"series":"LGR_Off_0.37 dots","day":1.38,"nh3":6.8},{"series":"LGR_Off_0.37 dots","day":1.4,"nh3":7.5},{"series":"LGR_Off_0.37 dots","day":1.45,"nh3":9.6},{"series":"LGR_Off_0.37 dots","day":1.47,"nh3":9.2},{"series":"LGR_Off_0.37 dots","day":1.49,"nh3":10.9},{"series":"LGR_Off_0.37 dots","day":1.52,"nh3":10.3},{"series":"LGR_Off_0.37 dots","day":1.56,"nh3":11.9},{"series":"LGR_Off_0.37 dots","day":1.61,"nh3":11.2},
{"series":"LGR_Off_0.37 dots","day":2.02,"nh3":4.9},{"series":"LGR_Off_0.37 dots","day":2.02,"nh3":4.5},{"series":"LGR_Off_0.37 dots","day":2.07,"nh3":4.7},{"series":"LGR_Off_0.37 dots","day":2.09,"nh3":3.9},{"series":"LGR_Off_0.37 dots","day":2.11,"nh3":3.5},{"series":"LGR_Off_0.37 dots","day":2.13,"nh3":3.6},{"series":"LGR_Off_0.37 dots","day":2.2,"nh3":6.6},{"series":"LGR_Off_0.37 dots","day":2.25,"nh3":7.9},{"series":"LGR_Off_0.37 dots","day":2.28,"nh3":7.6},{"series":"LGR_Off_0.37 dots","day":2.34,"nh3":6.1},{"series":"LGR_Off_0.37 dots","day":2.37,"nh3":5.8},{"series":"LGR_Off_0.37 dots","day":2.43,"nh3":5.3},{"series":"LGR_Off_0.37 dots","day":2.48,"nh3":5.1},{"series":"LGR_Off_0.37 dots","day":2.53,"nh3":6.2},{"series":"LGR_Off_0.37 dots","day":2.57,"nh3":6.5},{"series":"LGR_Off_0.37 dots","day":2.63,"nh3":5.4},{"series":"LGR_Off_0.37 dots","day":2.86,"nh3":4.7},{"series":"LGR_Off_0.37 dots","day":2.89,"nh3":5.3},{"series":"LGR_Off_0.37 dots","day":2.89,"nh3":4.4},{"series":"LGR_Off_0.37 dots","day":2.94,"nh3":5.1},{"series":"LGR_Off_0.37 dots","day":2.94,"nh3":4.5},{"series":"LGR_Off_0.37 dots","day":2.99,"nh3":4.8},{"series":"LGR_Off_0.37 dots","day":3.03,"nh3":4.9},{"series":"LGR_Off_0.37 dots","day":3.03,"nh3":4.4},{"series":"LGR_Off_0.37 dots","day":3.08,"nh3":4.6},{"series":"LGR_Off_0.37 dots","day":3.12,"nh3":5.1},{"series":"LGR_Off_0.37 dots","day":3.17,"nh3":4.4},{"series":"LGR_Off_0.37 dots","day":3.2,"nh3":3.5},{"series":"LGR_Off_0.37 dots","day":3.21,"nh3":5.4},{"series":"LGR_Off_0.37 dots","day":3.26,"nh3":4.5},{"series":"LGR_Off_0.37 dots","day":3.29,"nh3":3.9},{"series":"LGR_Off_0.37 dots","day":3.32,"nh3":4.4},{"series":"LGR_Off_0.37 dots","day":3.37,"nh3":4.5},{"series":"LGR_Off_0.37 dots","day":3.4,"nh3":6.2},{"series":"LGR_Off_0.37 dots","day":3.44,"nh3":9.5},{"series":"LGR_Off_0.37 dots","day":3.49,"nh3":9.1},{"series":"LGR_Off_0.37 dots","day":3.51,"nh3":9.7},{"series":"LGR_Off_0.37 dots","day":3.65,"nh3":7.8},{"series":"LGR_Off_0.37 dots","day":3.95,"nh3":7.0},{"series":"LGR_Off_0.37 dots","day":3.97,"nh3":5.3},{"series":"LGR_Off_0.37 dots","day":4.0,"nh3":4.4},{"series":"LGR_Off_0.37 dots","day":4.01,"nh3":3.8},{"series":"LGR_Off_0.37 dots","day":4.04,"nh3":4.2},{"series":"LGR_Off_0.37 dots","day":4.09,"nh3":3.35},{"series":"LGR_Off_0.37 dots","day":4.11,"nh3":3.7},{"series":"LGR_Off_0.37 dots","day":4.13,"nh3":3.4},{"series":"LGR_Off_0.37 dots","day":4.18,"nh3":3.6},{"series":"LGR_Off_0.37 dots","day":4.22,"nh3":3.7},{"series":"LGR_Off_0.37 dots","day":4.27,"nh3":4.4},{"series":"LGR_Off_0.37 dots","day":4.32,"nh3":11.2},{"series":"LGR_Off_0.37 dots","day":4.32,"nh3":9.7},{"series":"LGR_Off_0.37 dots","day":4.36,"nh3":12.0},{"series":"LGR_Off_0.37 dots","day":4.41,"nh3":14.6},{"series":"LGR_Off_0.37 dots","day":4.45,"nh3":14.2},{"series":"LGR_Off_0.37 dots","day":4.87,"nh3":9.0},{"series":"LGR_Off_0.37 dots","day":4.91,"nh3":8.8},{"series":"LGR_Off_0.37 dots","day":4.96,"nh3":8.9},{"series":"LGR_Off_0.37 dots","day":4.96,"nh3":6.6},{"series":"LGR_Off_0.37 dots","day":5.0,"nh3":8.4},{"series":"LGR_Off_0.37 dots","day":5.0,"nh3":7.1},{"series":"LGR_Off_0.37 dots","day":5.05,"nh3":8.0},{"series":"LGR_Off_0.37 dots","day":5.14,"nh3":6.6},{"series":"LGR_Off_0.37 dots","day":5.19,"nh3":5.0},{"series":"LGR_Off_0.37 dots","day":5.22,"nh3":4.9},{"series":"LGR_Off_0.37 dots","day":5.23,"nh3":6.1},{"series":"LGR_Off_0.37 dots","day":5.25,"nh3":5.5},{"series":"LGR_Off_0.37 dots","day":5.28,"nh3":11.1},{"series":"LGR_Off_0.37 dots","day":5.33,"nh3":11.8},{"series":"LGR_Off_0.37 dots","day":5.42,"nh3":9.0},{"series":"LGR_Off_0.37 dots","day":5.46,"nh3":8.8},
{"series":"LGR_Off_0.37 dots","day":6.02,"nh3":34.5},{"series":"LGR_Off_0.37 dots","day":6.02,"nh3":25.3},{"series":"LGR_Off_0.37 dots","day":6.07,"nh3":24.3},{"series":"LGR_Off_0.37 dots","day":6.07,"nh3":19.3},{"series":"LGR_Off_0.37 dots","day":6.11,"nh3":20.9},{"series":"LGR_Off_0.37 dots","day":6.14,"nh3":27.4},{"series":"LGR_Off_0.37 dots","day":6.2,"nh3":21.1},{"series":"LGR_Off_0.37 dots","day":6.25,"nh3":18.5},{"series":"LGR_Off_0.37 dots","day":6.29,"nh3":10.9},{"series":"LGR_Off_0.37 dots","day":6.34,"nh3":11.9},{"series":"LGR_Off_0.37 dots","day":6.38,"nh3":8.5},{"series":"LGR_Off_0.37 dots","day":6.4,"nh3":7.7},{"series":"LGR_Off_0.37 dots","day":6.61,"nh3":12.6},{"series":"LGR_Off_0.37 dots","day":6.92,"nh3":5.1},{"series":"LGR_Off_0.37 dots","day":6.94,"nh3":5.9},{"series":"LGR_Off_0.37 dots","day":6.97,"nh3":5.3},{"series":"LGR_Off_0.37 dots","day":7.0,"nh3":63},{"series":"LGR_Off_0.37 dots","day":7.0,"nh3":6.9},{"series":"LGR_Off_0.37 dots","day":7.02,"nh3":52.6},{"series":"LGR_Off_0.37 dots","day":7.02,"nh3":6.6},{"series":"LGR_Off_0.37 dots","day":7.05,"nh3":59},{"series":"LGR_Off_0.37 dots","day":7.05,"nh3":7.3},{"series":"LGR_Off_0.37 dots","day":7.07,"nh3":7.7},{"series":"LGR_Off_0.37 dots","day":7.08,"nh3":56},{"series":"LGR_Off_0.37 dots","day":7.09,"nh3":8.2},{"series":"LGR_Off_0.37 dots","day":7.11,"nh3":53.1},{"series":"LGR_Off_0.37 dots","day":7.13,"nh3":43},{"series":"LGR_Off_0.37 dots","day":7.15,"nh3":46.8},{"series":"LGR_Off_0.37 dots","day":7.18,"nh3":43.6},{"series":"LGR_Off_0.37 dots","day":7.2,"nh3":40.1},{"series":"LGR_Off_0.37 dots","day":7.25,"nh3":18.5},{"series":"LGR_Off_0.37 dots","day":7.26,"nh3":16.9},{"series":"LGR_Off_0.37 dots","day":7.28,"nh3":15.5},{"series":"LGR_Off_0.37 dots","day":7.32,"nh3":14.0},{"series":"LGR_Off_0.37 dots","day":7.4,"nh3":9.7},{"series":"LGR_Off_0.37 dots","day":7.4,"nh3":7.9},{"series":"LGR_Off_0.37 dots","day":7.44,"nh3":12.6},{"series":"LGR_Off_0.37 dots","day":7.49,"nh3":14.0},{"series":"LGR_Off_0.37 dots","day":7.52,"nh3":11.9},{"series":"LGR_Off_0.37 dots","day":7.53,"nh3":13.8},{"series":"LGR_Off_0.37 dots","day":7.54,"nh3":10.5},{"series":"LGR_Off_0.37 dots","day":7.59,"nh3":10.1},{"series":"LGR_Off_0.37 dots","day":7.61,"nh3":11.4},{"series":"LGR_Off_0.37 dots","day":7.63,"nh3":12.2},{"series":"LGR_Off_0.37 dots","day":7.68,"nh3":10.3},{"series":"LGR_Off_0.37 dots","day":7.7,"nh3":8.2},{"series":"LGR_Off_0.37 dots","day":7.9,"nh3":27.1},{"series":"LGR_Off_0.37 dots","day":7.94,"nh3":13.3},{"series":"LGR_Off_0.37 dots","day":7.98,"nh3":58},{"series":"LGR_Off_0.37 dots","day":7.99,"nh3":31.0},{"series":"LGR_Off_0.37 dots","day":8.0,"nh3":56},{"series":"LGR_Off_0.37 dots","day":8.06,"nh3":54.4},{"series":"LGR_Off_0.37 dots","day":8.07,"nh3":46.9},{"series":"LGR_Off_0.37 dots","day":8.12,"nh3":49.8},{"series":"LGR_Off_0.37 dots","day":8.12,"nh3":26.8},{"series":"LGR_Off_0.37 dots","day":8.17,"nh3":46.5},{"series":"LGR_Off_0.37 dots","day":8.22,"nh3":49.8},{"series":"LGR_Off_0.37 dots","day":8.22,"nh3":30.6},{"series":"LGR_Off_0.37 dots","day":8.22,"nh3":26.0},{"series":"LGR_Off_0.37 dots","day":8.26,"nh3":30.2},{"series":"LGR_Off_0.37 dots","day":8.27,"nh3":41.4},{"series":"LGR_Off_0.37 dots","day":8.31,"nh3":21.2},{"series":"LGR_Off_0.37 dots","day":8.31,"nh3":16.4},{"series":"LGR_Off_0.37 dots","day":8.36,"nh3":15.7},{"series":"LGR_Off_0.37 dots","day":8.4,"nh3":11.8},{"series":"LGR_Off_0.37 dots","day":8.43,"nh3":12.5},{"series":"LGR_Off_0.37 dots","day":8.43,"nh3":9.1},{"series":"LGR_Off_0.37 dots","day":8.45,"nh3":10.8},{"series":"LGR_Off_0.37 dots","day":8.49,"nh3":11.4},{"series":"LGR_Off_0.37 dots","day":8.54,"nh3":14.0},{"series":"LGR_Off_0.37 dots","day":8.59,"nh3":14.6},{"series":"LGR_Off_0.37 dots","day":8.59,"nh3":12.5},{"series":"LGR_Off_0.37 dots","day":8.63,"nh3":11.8},{"series":"LGR_Off_0.37 dots","day":8.68,"nh3":10.8},{"series":"LGR_Off_0.37 dots","day":8.72,"nh3":16.4},{"series":"LGR_Off_0.37 dots","day":8.72,"nh3":10.4},{"series":"LGR_Off_0.37 dots","day":8.77,"nh3":11.4},{"series":"LGR_Off_0.37 dots","day":8.86,"nh3":10.2},{"series":"LGR_Off_0.37 dots","day":8.91,"nh3":10.7},{"series":"LGR_Off_0.37 dots","day":8.91,"nh3":9.9},{"series":"LGR_Off_0.37 dots","day":8.95,"nh3":9.8},{"series":"LGR_Off_0.37 dots","day":9.0,"nh3":11.2},{"series":"LGR_Off_0.37 dots","day":9.05,"nh3":10.5},{"series":"LGR_Off_0.37 dots","day":9.09,"nh3":10.4},{"series":"LGR_Off_0.37 dots","day":9.09,"nh3":10.0},{"series":"LGR_Off_0.37 dots","day":9.14,"nh3":38.7},{"series":"LGR_Off_0.37 dots","day":9.18,"nh3":27.0},{"series":"LGR_Off_0.37 dots","day":9.18,"nh3":12.6},{"series":"LGR_Off_0.37 dots","day":9.2,"nh3":22.3},{"series":"LGR_Off_0.37 dots","day":9.23,"nh3":30.0},{"series":"LGR_Off_0.37 dots","day":9.23,"nh3":11.8},{"series":"LGR_Off_0.37 dots","day":9.27,"nh3":12.5},{"series":"LGR_Off_0.37 dots","day":9.27,"nh3":10.8},{"series":"LGR_Off_0.37 dots","day":9.32,"nh3":13.1},{"series":"LGR_Off_0.37 dots","day":9.32,"nh3":11.9},{"series":"LGR_Off_0.37 dots","day":9.37,"nh3":12.5},{"series":"LGR_Off_0.37 dots","day":10.1,"nh3":13.0},{"series":"LGR_Off_0.37 dots","day":10.15,"nh3":14.8},{"series":"LGR_Off_0.37 dots","day":10.24,"nh3":11.1},{"series":"LGR_Off_0.37 dots","day":10.38,"nh3":17.6},{"series":"LGR_Off_0.37 dots","day":10.4,"nh3":15.3},{"series":"LGR_Off_0.37 dots","day":10.42,"nh3":10.4},{"series":"LGR_Off_0.37 dots","day":10.47,"nh3":10.7},{"series":"LGR_Off_0.37 dots","day":10.51,"nh3":11.4},{"series":"LGR_Off_0.37 dots","day":10.56,"nh3":11.7},{"series":"LGR_Off_0.37 dots","day":10.61,"nh3":11.6},{"series":"LGR_Off_0.37 dots","day":12.38,"nh3":17.6},{"series":"LGR_Off_0.37 dots","day":12.42,"nh3":16.2},{"series":"LGR_Off_0.37 dots","day":16.25,"nh3":33.2},
{"series":"LGR_Off_0.37 dots","day":17.4,"nh3":9.7},{"series":"LGR_Off_0.37 dots","day":17.5,"nh3":10.1},{"series":"LGR_Off_0.37 dots","day":18.24,"nh3":3.9},{"series":"LGR_Off_0.37 dots","day":18.26,"nh3":3.7},{"series":"LGR_Off_0.37 dots","day":18.33,"nh3":2.1},{"series":"LGR_Off_0.37 dots","day":18.39,"nh3":1.55},{"series":"LGR_Off_0.37 dots","day":18.42,"nh3":1.5},{"series":"LGR_Off_0.37 dots","day":18.57,"nh3":5.6},{"series":"LGR_Off_0.37 dots","day":18.66,"nh3":4.0},{"series":"LGR_Off_0.37 dots","day":18.73,"nh3":6.3},{"series":"LGR_Off_0.37 dots","day":18.78,"nh3":3.9},{"series":"LGR_Off_0.37 dots","day":18.83,"nh3":3.5},{"series":"LGR_Off_0.37 dots","day":18.83,"nh3":2.8},{"series":"LGR_Off_0.37 dots","day":18.87,"nh3":3.7},{"series":"LGR_Off_0.37 dots","day":18.87,"nh3":3.2},{"series":"LGR_Off_0.37 dots","day":18.92,"nh3":2.9},{"series":"LGR_Off_0.37 dots","day":18.94,"nh3":3.6},{"series":"LGR_Off_0.37 dots","day":19.0,"nh3":6.3},{"series":"LGR_Off_0.37 dots","day":19.0,"nh3":5.0},{"series":"LGR_Off_0.37 dots","day":19.0,"nh3":4.1},{"series":"LGR_Off_0.37 dots","day":19.02,"nh3":4.3},{"series":"LGR_Off_0.37 dots","day":19.09,"nh3":6.2},{"series":"LGR_Off_0.37 dots","day":19.14,"nh3":6.05},{"series":"LGR_Off_0.37 dots","day":19.19,"nh3":6.0},{"series":"LGR_Off_0.37 dots","day":19.25,"nh3":6.3},{"series":"LGR_Off_0.37 dots","day":19.33,"nh3":6.3},{"series":"LGR_Off_0.37 dots","day":19.71,"nh3":11.3},{"series":"LGR_Off_0.37 dots","day":19.79,"nh3":7.9},
{"series":"LGR_Off_0.37 dots","day":21.48,"nh3":17.3},{"series":"LGR_Off_0.37 dots","day":21.62,"nh3":15.8},{"series":"LGR_Off_0.37 dots","day":21.67,"nh3":13.3},{"series":"LGR_Off_0.37 dots","day":21.71,"nh3":14.7},{"series":"LGR_Off_0.37 dots","day":21.9,"nh3":14.9},{"series":"LGR_Off_0.37 dots","day":21.9,"nh3":12.3},{"series":"LGR_Off_0.37 dots","day":21.95,"nh3":11.2},{"series":"LGR_Off_0.37 dots","day":21.95,"nh3":10.0},{"series":"LGR_Off_0.37 dots","day":22.03,"nh3":15.1},{"series":"LGR_Off_0.37 dots","day":22.13,"nh3":10.8},{"series":"LGR_Off_0.37 dots","day":22.18,"nh3":11.5},{"series":"LGR_Off_0.37 dots","day":22.22,"nh3":10.5},{"series":"LGR_Off_0.37 dots","day":22.26,"nh3":14.9},{"series":"LGR_Off_0.37 dots","day":22.27,"nh3":13.3},{"series":"LGR_Off_0.37 dots","day":22.31,"nh3":11.7},{"series":"LGR_Off_0.37 dots","day":22.59,"nh3":10.8},{"series":"LGR_Off_0.37 dots","day":22.61,"nh3":8.9},{"series":"LGR_Off_0.37 dots","day":22.63,"nh3":9.5},{"series":"LGR_Off_0.37 dots","day":22.96,"nh3":11.2},{"series":"LGR_Off_0.37 dots","day":22.97,"nh3":11.5},{"series":"LGR_Off_0.37 dots","day":23.0,"nh3":10.8},{"series":"LGR_Off_0.37 dots","day":23.05,"nh3":10.2},{"series":"LGR_Off_0.37 dots","day":23.12,"nh3":12.4},{"series":"LGR_Off_0.37 dots","day":23.14,"nh3":9.6},{"series":"LGR_Off_0.37 dots","day":23.14,"nh3":8.9},{"series":"LGR_Off_0.37 dots","day":23.19,"nh3":8.5},{"series":"LGR_Off_0.37 dots","day":23.23,"nh3":11.2},{"series":"LGR_Off_0.37 dots","day":23.23,"nh3":9.5},{"series":"LGR_Off_0.37 dots","day":23.28,"nh3":12.4},{"series":"LGR_Off_0.37 dots","day":23.32,"nh3":9.0},{"series":"LGR_Off_0.37 dots","day":23.37,"nh3":9.5},{"series":"LGR_Off_0.37 dots","day":23.41,"nh3":9.9},{"series":"LGR_Off_0.37 dots","day":23.41,"nh3":8.3},{"series":"LGR_Off_0.37 dots","day":23.51,"nh3":10.1},{"series":"LGR_Off_0.37 dots","day":23.55,"nh3":11.2},{"series":"LGR_Off_0.37 dots","day":23.64,"nh3":9.4},{"series":"LGR_Off_0.37 dots","day":24.01,"nh3":6.3},{"series":"LGR_Off_0.37 dots","day":24.01,"nh3":5.2},{"series":"LGR_Off_0.37 dots","day":24.06,"nh3":5.3},{"series":"LGR_Off_0.37 dots","day":24.1,"nh3":4.8},{"series":"LGR_Off_0.37 dots","day":24.1,"nh3":4.4},{"series":"LGR_Off_0.37 dots","day":24.13,"nh3":4.2},{"series":"LGR_Off_0.37 dots","day":24.15,"nh3":5.0},{"series":"LGR_Off_0.37 dots","day":24.2,"nh3":5.4},{"series":"LGR_Off_0.37 dots","day":24.26,"nh3":6.2},{"series":"LGR_Off_0.37 dots","day":24.29,"nh3":7.5},{"series":"LGR_Off_0.37 dots","day":24.29,"nh3":6.9},{"series":"LGR_Off_0.37 dots","day":24.29,"nh3":5.4},{"series":"LGR_Off_0.37 dots","day":24.38,"nh3":5.6},{"series":"LGR_Off_0.37 dots","day":24.38,"nh3":5.1},{"series":"LGR_Off_0.37 dots","day":24.47,"nh3":6.4},{"series":"LGR_Off_0.37 dots","day":24.56,"nh3":6.8},{"series":"LGR_Off_0.37 dots","day":24.56,"nh3":6.3},{"series":"LGR_Off_0.37 dots","day":24.61,"nh3":5.9},{"series":"LGR_Off_0.37 dots","day":24.65,"nh3":5.3},{"series":"LGR_Off_0.37 dots","day":24.68,"nh3":4.9},{"series":"LGR_Off_0.37 dots","day":24.84,"nh3":3.1},{"series":"LGR_Off_0.37 dots","day":24.88,"nh3":4.3},{"series":"LGR_Off_0.37 dots","day":24.93,"nh3":4.2},{"series":"LGR_Off_0.37 dots","day":24.93,"nh3":3.0},{"series":"LGR_Off_0.37 dots","day":24.98,"nh3":2.75},{"series":"LGR_Off_0.37 dots","day":25.02,"nh3":3.9},{"series":"LGR_Off_0.37 dots","day":25.1,"nh3":3.5},{"series":"LGR_Off_0.37 dots","day":25.14,"nh3":3.3},{"series":"LGR_Off_0.37 dots","day":25.16,"nh3":5.8},{"series":"LGR_Off_0.37 dots","day":25.2,"nh3":6.6},{"series":"LGR_Off_0.37 dots","day":25.2,"nh3":4.8},{"series":"LGR_Off_0.37 dots","day":25.25,"nh3":6.1},{"series":"LGR_Off_0.37 dots","day":25.25,"nh3":5.0},{"series":"LGR_Off_0.37 dots","day":25.3,"nh3":5.3},{"series":"LGR_Off_0.37 dots","day":25.34,"nh3":4.8},{"series":"LGR_Off_0.37 dots","day":25.39,"nh3":6.1},{"series":"LGR_Off_0.37 dots","day":25.43,"nh3":6.3},{"series":"LGR_Off_0.37 dots","day":25.43,"nh3":5.5},{"series":"LGR_Off_0.37 dots","day":25.48,"nh3":6.8},{"series":"LGR_Off_0.37 dots","day":25.53,"nh3":5.0},{"series":"LGR_Off_0.37 dots","day":25.57,"nh3":5.6},{"series":"LGR_Off_0.37 dots","day":25.6,"nh3":3.8},{"series":"LGR_Off_0.37 dots","day":25.62,"nh3":5.4},{"series":"LGR_Off_0.37 dots","day":25.62,"nh3":4.8},{"series":"LGR_Off_0.37 dots","day":25.62,"nh3":4.1},{"series":"LGR_Off_0.37 dots","day":25.66,"nh3":5.1},{"series":"LGR_Off_0.37 dots","day":25.71,"nh3":5.9},{"series":"LGR_Off_0.37 dots","day":25.8,"nh3":5.5},{"series":"LGR_Off_0.37 dots","day":25.85,"nh3":7.9},{"series":"LGR_Off_0.37 dots","day":25.88,"nh3":10.5},{"series":"LGR_Off_0.37 dots","day":25.89,"nh3":6.5},{"series":"LGR_Off_0.37 dots","day":25.89,"nh3":5.8},{"series":"LGR_Off_0.37 dots","day":25.94,"nh3":5.9},{"series":"LGR_Off_0.37 dots","day":25.99,"nh3":6.4},{"series":"LGR_Off_0.37 dots","day":26.03,"nh3":5.2},{"series":"LGR_Off_0.37 dots","day":26.05,"nh3":5.3},{"series":"LGR_Off_0.37 dots","day":26.14,"nh3":6.2},{"series":"LGR_Off_0.37 dots","day":26.17,"nh3":4.8},{"series":"LGR_Off_0.37 dots","day":26.2,"nh3":4.4},{"series":"LGR_Off_0.37 dots","day":26.22,"nh3":4.1},{"series":"LGR_Off_0.37 dots","day":26.24,"nh3":3.9},{"series":"LGR_Off_0.37 dots","day":26.26,"nh3":4.5},{"series":"LGR_Off_0.37 dots","day":26.31,"nh3":8.4},{"series":"LGR_Off_0.37 dots","day":26.33,"nh3":7.3},{"series":"LGR_Off_0.37 dots","day":26.35,"nh3":7.9},{"series":"LGR_Off_0.37 dots","day":26.4,"nh3":7.6},{"series":"LGR_Off_0.37 dots","day":26.42,"nh3":21.2},
{"series":"LGR_Off_0.37 dots","day":26.81,"nh3":54.7},{"series":"LGR_Off_0.37 dots","day":26.9,"nh3":49.1},{"series":"LGR_Off_0.37 dots","day":26.95,"nh3":51.9},{"series":"LGR_Off_0.37 dots","day":27.0,"nh3":57},{"series":"LGR_Off_0.37 dots","day":27.04,"nh3":44.7},{"series":"LGR_Off_0.37 dots","day":27.08,"nh3":59.4},{"series":"LGR_Off_0.37 dots","day":27.27,"nh3":48.3},{"series":"LGR_Off_0.37 dots","day":27.27,"nh3":34.6},{"series":"LGR_Off_0.37 dots","day":27.31,"nh3":26.0},{"series":"LGR_Off_0.37 dots","day":27.36,"nh3":28.6},{"series":"LGR_Off_0.37 dots","day":27.54,"nh3":28.2},{"series":"LGR_Off_0.37 dots","day":27.59,"nh3":25.6},{"series":"LGR_Off_0.37 dots","day":27.6,"nh3":27.8},{"series":"LGR_Off_0.37 dots","day":27.63,"nh3":24.6},{"series":"LGR_Off_0.37 dots","day":27.64,"nh3":25.9},{"series":"LGR_Off_0.37 dots","day":27.79,"nh3":12.3},{"series":"LGR_Off_0.37 dots","day":27.98,"nh3":14.0},{"series":"LGR_Off_0.37 dots","day":28.07,"nh3":12.8},{"series":"LGR_Off_0.37 dots","day":28.09,"nh3":15.5},{"series":"LGR_Off_0.37 dots","day":28.15,"nh3":13.7},{"series":"LGR_Off_0.37 dots","day":28.2,"nh3":12.4},{"series":"LGR_Off_0.37 dots","day":28.25,"nh3":13.9},{"series":"LGR_Off_0.37 dots","day":28.31,"nh3":11.9},{"series":"LGR_Off_0.37 dots","day":28.9,"nh3":11.8},{"series":"LGR_Off_0.37 dots","day":28.96,"nh3":11.2},{"series":"LGR_Off_0.37 dots","day":29.01,"nh3":10.3},{"series":"LGR_Off_0.37 dots","day":29.07,"nh3":9.9},{"series":"LGR_Off_0.37 dots","day":29.12,"nh3":8.5},{"series":"LGR_Off_0.37 dots","day":29.17,"nh3":9.3},{"series":"LGR_Off_0.37 dots","day":29.23,"nh3":11.2},{"series":"LGR_Off_0.37 dots","day":29.28,"nh3":10.1},{"series":"LGR_Off_0.37 dots","day":29.34,"nh3":11.8},{"series":"LGR_Off_0.37 dots","day":29.5,"nh3":17.4},{"series":"LGR_Off_0.37 dots","day":29.52,"nh3":13.0},{"series":"LGR_Off_0.37 dots","day":29.91,"nh3":8.5},{"series":"LGR_Off_0.37 dots","day":29.93,"nh3":9.8},{"series":"LGR_Off_0.37 dots","day":29.95,"nh3":9.2},{"series":"LGR_Off_0.37 dots","day":29.99,"nh3":6.9},{"series":"LGR_Off_0.37 dots","day":30.09,"nh3":10.2},{"series":"LGR_Off_0.37 dots","day":30.15,"nh3":7.3},{"series":"LGR_Off_0.37 dots","day":30.26,"nh3":10.3},{"series":"LGR_Off_0.37 dots","day":30.28,"nh3":12.4},{"series":"LGR_Off_0.37 dots","day":30.31,"nh3":14.7},{"series":"LGR_Off_0.37 dots","day":30.34,"nh3":13.7},{"series":"LGR_Off_0.37 dots","day":30.42,"nh3":14.7},{"series":"LGR_Off_0.37 dots","day":30.91,"nh3":7.1},{"series":"LGR_Off_0.37 dots","day":30.96,"nh3":7.9},{"series":"LGR_Off_0.37 dots","day":31.01,"nh3":7.4},{"series":"LGR_Off_0.37 dots","day":31.1,"nh3":4.8},{"series":"LGR_Off_0.37 dots","day":31.12,"nh3":4.1},{"series":"LGR_Off_0.37 dots","day":31.18,"nh3":6.8},{"series":"LGR_Off_0.37 dots","day":31.21,"nh3":6.7},{"series":"LGR_Off_0.37 dots","day":31.23,"nh3":6.1},{"series":"LGR_Off_0.37 dots","day":31.23,"nh3":5.6},{"series":"LGR_Off_0.37 dots","day":31.45,"nh3":8.4},{"series":"LGR_Off_0.37 dots","day":31.99,"nh3":3.15},{"series":"LGR_Off_0.37 dots","day":32.04,"nh3":2.65},{"series":"LGR_Off_0.37 dots","day":32.1,"nh3":2.55},{"series":"LGR_Off_0.37 dots","day":32.15,"nh3":2.45},{"series":"LGR_Off_0.37 dots","day":32.2,"nh3":2.8},{"series":"LGR_Off_0.37 dots","day":32.26,"nh3":2.7},{"series":"LGR_Off_0.37 dots","day":32.29,"nh3":8.2},{"series":"LGR_Off_0.37 dots","day":32.31,"nh3":5.9},{"series":"LGR_Off_0.37 dots","day":32.35,"nh3":4.9},{"series":"LGR_Off_0.37 dots","day":32.37,"nh3":3.75},{"series":"LGR_Off_0.37 dots","day":32.4,"nh3":3.5},{"series":"LGR_Off_0.37 dots","day":33.02,"nh3":2.2},{"series":"LGR_Off_0.37 dots","day":33.09,"nh3":2.4},{"series":"LGR_Off_0.37 dots","day":33.12,"nh3":3.3},{"series":"LGR_Off_0.37 dots","day":33.18,"nh3":4.2},{"series":"LGR_Off_0.37 dots","day":33.2,"nh3":2.9},{"series":"LGR_Off_0.37 dots","day":33.23,"nh3":3.25},{"series":"LGR_Off_0.37 dots","day":35.0,"nh3":6.8},{"series":"LGR_Off_0.37 dots","day":35.02,"nh3":6.1},{"series":"LGR_Off_0.37 dots","day":35.02,"nh3":4.8},{"series":"LGR_Off_0.37 dots","day":35.04,"nh3":5.4},{"series":"LGR_Off_0.37 dots","day":35.13,"nh3":5.6},{"series":"LGR_Off_0.37 dots","day":35.13,"nh3":5.0},{"series":"LGR_Off_0.37 dots","day":35.18,"nh3":4.0},{"series":"LGR_Off_0.37 dots","day":35.24,"nh3":3.7},{"series":"LGR_Off_0.37 dots","day":35.29,"nh3":4.4},{"series":"LGR_Off_0.37 dots","day":35.47,"nh3":5.6},{"series":"LGR_Off_0.37 dots","day":36.02,"nh3":2.8},{"series":"LGR_Off_0.37 dots","day":36.05,"nh3":2.65},{"series":"LGR_Off_0.37 dots","day":36.08,"nh3":3.8},{"series":"LGR_Off_0.37 dots","day":36.16,"nh3":4.6},{"series":"LGR_Off_0.37 dots","day":37.02,"nh3":2.7},{"series":"LGR_Off_0.37 dots","day":37.05,"nh3":3.0},{"series":"LGR_Off_0.37 dots","day":37.05,"nh3":2.55},{"series":"LGR_Off_0.37 dots","day":37.1,"nh3":8.0},{"series":"LGR_Off_0.37 dots","day":37.13,"nh3":6.7},{"series":"LGR_Off_0.37 dots","day":37.13,"nh3":4.55},{"series":"LGR_Off_0.37 dots","day":37.18,"nh3":6.3},{"series":"LGR_Off_0.37 dots","day":37.21,"nh3":4.8},{"series":"LGR_Off_0.37 dots","day":37.24,"nh3":5.9},{"series":"LGR_Off_0.37 dots","day":37.29,"nh3":5.2},{"series":"LGR_Off_0.37 dots","day":37.35,"nh3":5.5},{"series":"LGR_Off_0.37 dots","day":37.4,"nh3":5.9},{"series":"LGR_Off_0.37 dots","day":37.49,"nh3":6.8},{"series":"LGR_Off_0.37 dots","day":37.51,"nh3":6.4},{"series":"LGR_Off_0.37 dots","day":37.62,"nh3":6.8},{"series":"LGR_Off_0.37 dots","day":37.73,"nh3":5.2},{"series":"LGR_Off_0.37 dots","day":38.0,"nh3":6.9},{"series":"LGR_Off_0.37 dots","day":38.05,"nh3":6.6},{"series":"LGR_Off_0.37 dots","day":38.14,"nh3":4.1},{"series":"LGR_Off_0.37 dots","day":38.16,"nh3":3.9},{"series":"LGR_Off_0.37 dots","day":38.19,"nh3":3.5},{"series":"LGR_Off_0.37 dots","day":38.32,"nh3":4.4},{"series":"LGR_Off_0.37 dots","day":38.43,"nh3":4.3},{"series":"LGR_Off_0.37 dots","day":38.97,"nh3":4.4},{"series":"LGR_Off_0.37 dots","day":39.13,"nh3":4.45},{"series":"LGR_Off_0.37 dots","day":39.3,"nh3":4.4},{"series":"LGR_Off_0.37 dots","day":39.35,"nh3":2.7}
],
"banner": [{"day": 2.81, "nh3": 1.298, "day_end": 38.79, "nh3_end": 1216}],
"notes": [
{"note": "Cross validation of gradient measurements by LGR-QCL and COTAG:", "day": 20.58, "nh3": 47.1},
{"note": "Work in progress!", "day": 21.52, "nh3": 30.6}
]
},
"encoding": {
  "x": {"field": "day", "type": "quantitative", "scale": {"domain": [0, 44], "nice": false, "zero": false},
        "axis": {"title": null, "values": [0,1,2,3,4,5,6,7,8,9,10,11,12,13,14,15,16,17,18,19,20,21,22,23,24,25,26,27,28,29,30,31,32,33,34,35,36,37,38,39,40,41,42,43,44],
                 "labelExpr": "timeFormat(datetime(2022, 4, 5 + datum.value), '%d.%m.%y')",
                 "labelAngle": -90, "labelAlign": "right", "labelBaseline": "middle", "labelFontSize": 24, "labelPadding": 14,
                 "tickSize": 7, "labelOverlap": false, "labelSeparation": 0, "labelFlush": false, "labelBound": false}},
  "y": {"field": "nh3", "type": "quantitative", "scale": {"type": "log", "domain": [1, 1000], "nice": false},
        "axis": {"title": "NH₃ concentration (µg m⁻³)",
                 "values": [1,2,3,4,5,6,7,8,9,10,20,30,40,50,60,70,80,90,100,200,300,400,500,600,700,800,900,1000],
                 "labelExpr": "datum.value == 1 || datum.value == 10 || datum.value == 100 || datum.value == 1000 ? format(datum.value, 'd') : ''",
                 "labelFontSize": 36, "labelPadding": 20, "tickSize": 10, "labelOverlap": false, "labelFlush": false,
                 "titleFontSize": 50, "titleFontWeight": "bold", "titleAngle": -90, "titleX": -128, "titleY": 430,
                 "titleAlign": "center", "titleBaseline": "bottom"}}
},
"layer": [
{
"data": {"name": "lines"},
"mark": {"type": "rule"},
"encoding": {
  "x2": {"field": "day_end"},
  "stroke": {"field": "series", "type": "nominal",
             "scale": {"domain": ["LGR_NNT_0.37 mean","LGR_SUN_0.37 mean","LGR_Off_0.37 mean","COTAG_NNT_0.37m","COTAG_SUN_0.37m","COTAG_OFF_0.37m"],
                       "range": ["#FF0000","#0000FF","#00FF00","#FF0000","#0000FF","#00FF00"]},
             "legend": null},
  "strokeWidth": {"condition": {"test": "datum.series == 'COTAG_NNT_0.37m' || datum.series == 'COTAG_SUN_0.37m'", "value": 5}, "value": 2}
}
},
{
"data": {"name": "dots"},
"mark": {"type": "point", "filled": true, "size": 460, "opacity": 1, "strokeWidth": 0},
"encoding": {
  "color": {"field": "series", "type": "nominal",
            "scale": {"domain": ["LGR_NNT_0.37 dots","LGR_SUN_0.37 dots","LGR_Off_0.37 dots","LGR_NNT_0.37 mean","LGR_SUN_0.37 mean","LGR_Off_0.37 mean","COTAG_NNT_0.37m","COTAG_SUN_0.37m","COTAG_OFF_0.37m"],
                      "range": ["#FF0000","#0000FF","#00FF00","#FF0000","#0000FF","#00FF00","#FF0000","#0000FF","#00FF00"]},
            "legend": {"title": null, "orient": "none", "legendX": 45, "legendY": 25, "columns": 3, "direction": "horizontal", "gridAlign": "all",
                       "labelFontSize": 25, "labelFont": "Liberation Sans", "labelColor": "black", "labelOffset": 2, "labelLimit": 0,
                       "symbolSize": 460, "symbolStrokeWidth": 0, "columnPadding": 20, "rowPadding": 34, "padding": 14,
                       "strokeColor": "black", "fillColor": "white",
                       "labelExpr": "replace(replace(datum.label, ' dots', ''), ' mean', '')"}},
  "shape": {"field": "series", "type": "nominal",
            "scale": {"domain": ["LGR_NNT_0.37 dots","LGR_SUN_0.37 dots","LGR_Off_0.37 dots","LGR_NNT_0.37 mean","LGR_SUN_0.37 mean","LGR_Off_0.37 mean","COTAG_NNT_0.37m","COTAG_SUN_0.37m","COTAG_OFF_0.37m"],
                      "range": ["M-0.22,0a0.22,0.22 0 1,0 0.44,0a0.22,0.22 0 1,0 -0.44,0Z","M-0.22,0a0.22,0.22 0 1,0 0.44,0a0.22,0.22 0 1,0 -0.44,0Z","M-0.22,0a0.22,0.22 0 1,0 0.44,0a0.22,0.22 0 1,0 -0.44,0Z",
                                "M-0.62,0a0.62,0.62 0 1,0 1.24,0a0.62,0.62 0 1,0 -1.24,0Z","M-0.62,0a0.62,0.62 0 1,0 1.24,0a0.62,0.62 0 1,0 -1.24,0Z","M-0.62,0a0.62,0.62 0 1,0 1.24,0a0.62,0.62 0 1,0 -1.24,0Z",
                                "M0,-0.95L1,0.85L-1,0.85Z","M0,-0.95L1,0.85L-1,0.85Z","M0,-0.95L1,0.85L-1,0.85Z"]}}
}
},
{
"data": {"name": "means"},
"mark": {"type": "point", "filled": true, "size": 460, "opacity": 1, "strokeWidth": 0},
"encoding": {
  "color": {"field": "series", "type": "nominal"},
  "shape": {"field": "series", "type": "nominal"}
}
},
{
"data": {"name": "banner"},
"mark": {"type": "rule", "color": "#FFFFCC", "strokeWidth": 150, "strokeCap": "butt"},
"encoding": {
  "x2": {"field": "day_end"},
  "y2": {"field": "nh3_end"}
}
},
{
"data": {"name": "notes"},
"mark": {"type": "text", "font": "Lato", "fontWeight": "bold", "fontSize": 50, "color": "#C00000", "angle": -32.7, "align": "center", "baseline": "middle"},
"encoding": {
  "text": {"field": "note"}
}
}
]
}
